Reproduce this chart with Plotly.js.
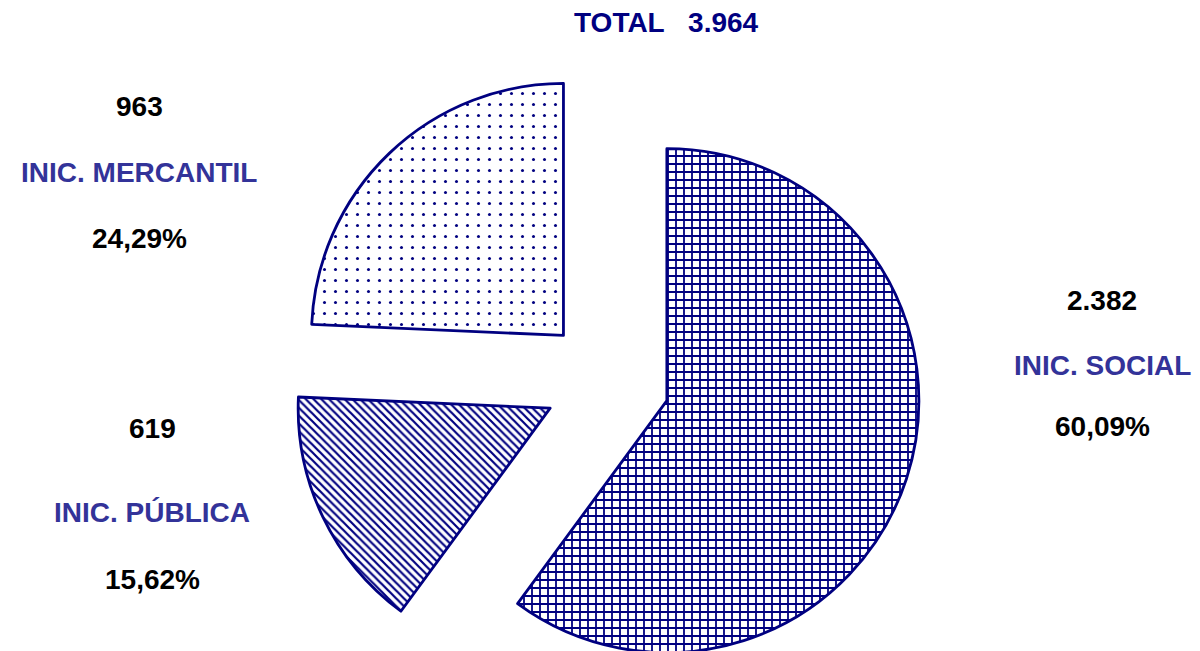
<!DOCTYPE html>
<html>
<head>
<meta charset="utf-8">
<script src="https://cdn.plot.ly/plotly-3.0.1.min.js"></script>
<style>
html, body { margin: 0; padding: 0; overflow: hidden; background: #fff; width: 1200px; height: 651px; }
#chart { width: 1200px; height: 700px; }
</style>
</head>
<body>
<div id="chart"></div>
<script>
// ---- data ----
const labels = ['INIC. SOCIAL', 'INIC. PÚBLICA', 'INIC. MERCANTIL'];
const values = [2382, 619, 963];
const patternShapes = ['+', '\\', '.'];
const totalLabel = 'TOTAL';

// ---- helpers ----
const total = values.reduce((a, b) => a + b, 0);
function fmtInt(n) { return String(n).replace(/\B(?=(\d{3})+(?!\d))/g, '.'); }
function fmtPct(v) { return (v / total * 100).toFixed(2).replace('.', ',') + '%'; }

const W = 1200, H = 700;
const px = x => x / W;
const py = y => 1 - y / H;

const trace = {
  type: 'pie',
  labels: labels,
  values: values,
  sort: false,
  direction: 'clockwise',
  rotation: 0,
  pull: [0.25, 0.25, 0.25],
  textinfo: 'none',
  hoverinfo: 'label+value+percent',
  domain: { x: [px(607 - 315), px(607 + 315)], y: [py(381 + 315), py(381 - 315)] },
  marker: {
    colors: ['#ffffff', '#ffffff', '#ffffff'],
    line: { color: '#000080', width: 2.8 },
    pattern: {
      shape: patternShapes,
      fgcolor: '#000080',
      bgcolor: '#ffffff',
      size: [8, 5.5, 11],
      solidity: [0.4, 0.4, 0.06],
      fillmode: 'replace'
    }
  },
  showlegend: false
};

// label block positions (pixels): [x, yValue, yLabel, yPct]
const blockPos = [
  [1102, 300, 365, 426],
  [152, 428, 512, 579],
  [139, 107, 173, 238]
];

const fontBase = { family: 'Arial, "Liberation Sans", sans-serif', size: 28, weight: 700 };
const annotations = [];
labels.forEach((lab, i) => {
  const p = blockPos[i];
  annotations.push({ text: '<b>' + fmtInt(values[i]) + '</b>', x: px(p[0]), y: py(p[1]), font: Object.assign({}, fontBase, { color: '#000000' }) });
  annotations.push({ text: '<b>' + lab + '</b>', x: px(p[0]), y: py(p[2]), font: Object.assign({}, fontBase, { color: '#333399' }) });
  annotations.push({ text: '<b>' + fmtPct(values[i]) + '</b>', x: px(p[0]), y: py(p[3]), font: Object.assign({}, fontBase, { color: '#000000' }) });
});
annotations.push({ text: '<b>' + totalLabel + '&nbsp;&nbsp;&nbsp;' + fmtInt(total) + '</b>', x: px(666), y: py(22), font: Object.assign({}, fontBase, { color: '#000080' }) });
annotations.forEach(a => { a.xref = 'paper'; a.yref = 'paper'; a.xanchor = 'center'; a.yanchor = 'middle'; a.showarrow = false; });

const layout = {
  width: W,
  height: H,
  margin: { l: 0, r: 0, t: 0, b: 0 },
  paper_bgcolor: '#ffffff',
  plot_bgcolor: '#ffffff',
  annotations: annotations,
  showlegend: false
};

Plotly.newPlot('chart', [trace], layout, { displayModeBar: false, staticPlot: true });
</script>
</body>
</html>
